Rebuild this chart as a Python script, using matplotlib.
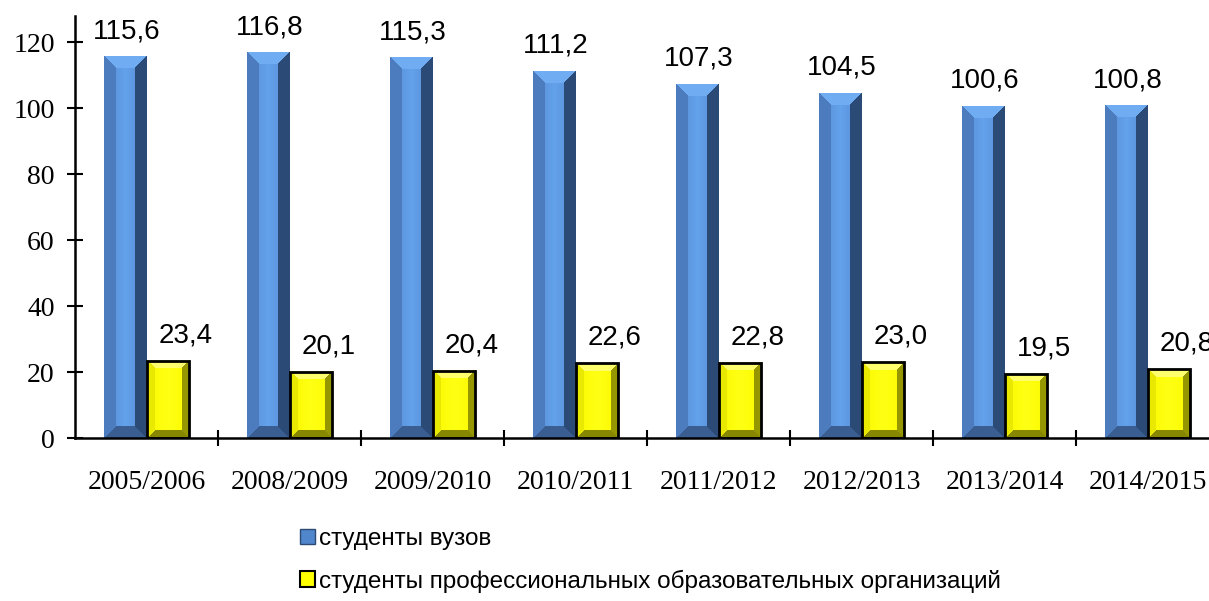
import matplotlib

matplotlib.use("Agg")
import matplotlib.pyplot as plt
import numpy as np
from matplotlib.patches import Patch

years = ["2005/2006", "2008/2009", "2009/2010", "2010/2011",
         "2011/2012", "2012/2013", "2013/2014", "2014/2015"]
vuz = [115.6, 116.8, 115.3, 111.2, 107.3, 104.5, 100.6, 100.8]
spo = [23.4, 20.1, 20.4, 22.6, 22.8, 23.0, 19.5, 20.8]
series_names = ["студенты вузов",
                "студенты профессиональных образовательных организаций"]

# face colours for bevelled bars
BLUE = dict(left=(76, 124, 190), inner_edge=(84, 138, 208), inner_mid=(100, 162, 236),
            right=(44, 74, 118), top=(112, 172, 242), bottom=(58, 94, 146))
YELLOW = dict(left=(232, 232, 0), inner_edge=(250, 250, 0), inner_mid=(255, 255, 20),
              right=(150, 150, 0), top=(255, 255, 110), bottom=(135, 135, 0))


def bevel_image(h, w, col, bevel):
    yy, xx = np.mgrid[0:h, 0:w] + 0.5
    d = np.stack([xx, w - xx, yy, h - yy])  # left, right, top, bottom
    face = d.argmin(axis=0)
    dmin = d.min(axis=0)
    t = np.abs(xx / w - 0.5) * 2
    inner = (1 - t[..., None]) * np.array(col["inner_mid"]) + t[..., None] * np.array(col["inner_edge"])
    img = inner.copy()
    for k, name in enumerate(["left", "right", "top", "bottom"]):
        m = (face == k) & (dmin < bevel)
        img[m] = col[name]
    return img / 255


fig = plt.figure(figsize=(12.09, 6.01), dpi=100)
ax = fig.add_axes([75 / 1209, 163 / 601, 1144 / 1209, 422 / 601])
ax.set_xlim(-0.5, len(years) - 0.5)
ax.set_ylim(0, 128)

x = np.arange(len(years))
w = 0.3
b1 = ax.bar(x - w / 2, vuz, w, color="#5b96dc", zorder=2)
b2 = ax.bar(x + w / 2, spo, w, color="#ffff00", zorder=2)

for bars, col, bevel, edge in [(b1, BLUE, 12, None), (b2, YELLOW, 8, "black")]:
    for p in bars:
        x0, y0 = p.get_x(), p.get_y()
        x1, y1 = x0 + p.get_width(), y0 + p.get_height()
        (px0, py0), (px1, py1) = ax.transData.transform([(x0, y0), (x1, y1)])
        hp, wp = max(int(round(py1 - py0)), 1), max(int(round(px1 - px0)), 1)
        ax.imshow(bevel_image(hp, wp, col, bevel), extent=(x0, x1, y0, y1),
                  aspect="auto", interpolation="nearest", zorder=3)
        if edge:
            ax.add_patch(plt.Rectangle((x0, y0), x1 - x0, y1 - y0, fill=False,
                                       edgecolor=edge, lw=2, zorder=4))

ax.set_xlim(-0.5, len(years) - 0.5)
ax.set_ylim(0, 128)

# value labels; the yellow ones sit a bit to the right of their bars
for bars, vals, dx in [(b1, vuz, 1), (b2, spo, 13)]:
    for p, v in zip(bars, vals):
        ax.annotate(f"{v:.1f}".replace(".", ","),
                    (p.get_x() + p.get_width() / 2, p.get_height()),
                    xytext=(dx, 9), textcoords="offset points",
                    ha="center", va="bottom", fontsize=20,
                    family="Liberation Sans", zorder=5, annotation_clip=False)

for s in ["top", "right"]:
    ax.spines[s].set_visible(False)
for s in ["left", "bottom"]:
    ax.spines[s].set_linewidth(1.8)
    ax.spines[s].set_zorder(6)

ax.set_yticks(range(0, 121, 20))
ax.tick_params(axis="y", direction="inout", length=11, width=1.5, labelsize=20, pad=9)
ax.set_xticks(x)
ax.set_xticklabels(years)
ax.tick_params(axis="x", length=0, labelsize=20, pad=23)
ax.set_xticks(x[:-1] + 0.5, minor=True)
ax.tick_params(axis="x", which="minor", direction="inout", length=11, width=1.5)
for lab in ax.get_xticklabels() + ax.get_yticklabels():
    lab.set_family("Liberation Serif")

handles = [Patch(facecolor="#4f86cc", edgecolor="#2c4a74", lw=1),
           Patch(facecolor="#ffff00", edgecolor="black", lw=1.5)]
fig.legend(handles, series_names, loc="upper left",
           bbox_to_anchor=(300 / 1209, 1 - 528 / 601), frameon=False,
           borderpad=0, borderaxespad=0,
           handlelength=0.62, handleheight=0.62, handletextpad=0.15,
           labelspacing=0.8, prop={"family": "Liberation Sans", "size": 17.5})

fig.savefig("out.png", dpi=100)
